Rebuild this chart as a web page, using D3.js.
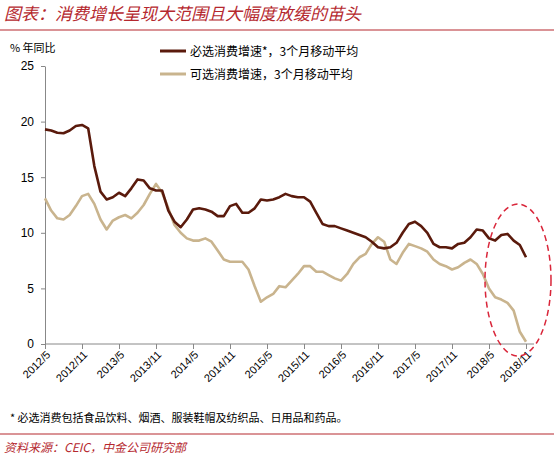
<!DOCTYPE html>
<html><head><meta charset="utf-8">
<script src="https://cdn.jsdelivr.net/npm/d3@7"></script>
<style>body{margin:0;background:#fff;font-family:"Noto Sans CJK SC",sans-serif}</style>
</head><body><svg id="chart" width="554" height="462"></svg>
<script>
const startMonth = new Date(2012, 4, 1);
const necessity = [19.3,19.2,19.0,18.95,19.2,19.6,19.7,19.4,16.0,13.7,13.0,13.2,13.6,13.3,14.0,14.8,14.7,14.0,13.8,13.8,
  12.0,11.0,10.5,11.2,12.1,12.2,12.1,11.9,11.5,11.5,12.4,12.6,11.8,11.8,12.2,13.0,12.9,13.0,13.2,13.5,
  13.3,13.2,13.2,12.8,11.8,10.8,10.6,10.6,10.4,10.2,10.0,9.8,9.6,9.2,8.7,8.6,8.7,9.1,10.0,10.8,
  11.0,10.6,10.0,9.0,8.7,8.7,8.6,9.0,9.1,9.6,10.3,10.2,9.5,9.3,9.8,9.9,9.3,8.9,7.8];
const optional = [13.1,12.0,11.3,11.2,11.6,12.4,13.3,13.5,12.6,11.2,10.3,11.1,11.4,11.6,11.3,11.8,12.5,13.5,14.4,13.6,
  12.2,10.7,10.0,9.5,9.3,9.3,9.5,9.2,8.4,7.6,7.4,7.4,7.4,6.7,5.2,3.8,4.2,4.5,5.2,5.1,
  5.7,6.3,7.0,7.0,6.5,6.5,6.2,5.9,5.7,6.3,7.2,7.8,8.1,9.0,9.6,9.2,7.6,7.2,8.2,9.0,
  8.8,8.6,8.3,7.6,7.2,7.0,6.7,6.9,7.3,7.6,7.2,6.3,5.0,4.2,4.0,3.7,3.0,1.1,0.2];
const xTicks = ["2012/5","2012/11","2013/5","2013/11","2014/5","2014/11","2015/5","2015/11","2016/5","2016/11","2017/5","2017/11","2018/5","2018/11"];
const yTicks = [0,5,10,15,20,25];
const seriesNames = ["必选消费增速*，3个月移动平均","可选消费增速，3个月移动平均"];
const colors = ["#5a1a0c","#c9b48e"];
const red = "#b5282e";

const svg = d3.select("#chart");
const x = d3.scaleLinear().domain([0, 78]).range([45, 526]);
const y = d3.scaleLinear().domain([0, 25]).range([344, 66]);

// title
svg.append("text").attr("x", 4).attr("y", 20).attr("fill", red)
  .style("font-size", "17px").style("font-style", "italic").text("图表：消费增长呈现大范围且大幅度放缓的苗头");
svg.append("line").attr("x1", 0).attr("x2", 554).attr("y1", 30).attr("y2", 30).attr("stroke", red).attr("stroke-width", 1.2);

svg.append("text").attr("x", 10).attr("y", 52).style("font-size", "11px").text("% 年同比");

// y axis
const yAxis = svg.append("g").attr("transform", "translate(45,0)")
  .call(d3.axisLeft(y).tickValues(yTicks).tickSize(4).tickSizeOuter(0));
yAxis.selectAll("text").style("font-size", "12px").style("font-family", "Liberation Sans, Arial").attr("dx", "-4");
yAxis.selectAll("path,line").attr("stroke", "#888");

// x axis
const xAxis = svg.append("g").attr("transform", "translate(0,344)")
  .call(d3.axisBottom(x).tickValues(d3.range(0, 79, 6)).tickFormat((d, i) => xTicks[i]).tickSize(5).tickSizeOuter(0));
xAxis.select(".domain").attr("d", "M45,0H534");
xAxis.selectAll("path,line").attr("stroke", "#888");
xAxis.selectAll("text").style("font-size", "11px").style("font-family", "Liberation Sans, Arial")
  .attr("text-anchor", "end").attr("transform", "rotate(-45)").attr("dx", "-4").attr("dy", "4");

// lines
const line = d3.line().x((d, i) => x(i)).y(d => y(d));
[optional, necessity].forEach((s, k) => {
  svg.append("path").datum(s).attr("d", line).attr("fill", "none")
    .attr("stroke", k === 0 ? colors[1] : colors[0]).attr("stroke-width", 2.6).attr("stroke-linejoin", "round");
});

// legend
seriesNames.forEach((n, i) => {
  const ly = 51 + i * 23;
  svg.append("line").attr("x1", 160).attr("x2", 186).attr("y1", ly).attr("y2", ly)
    .attr("stroke", colors[i]).attr("stroke-width", 3);
  svg.append("text").attr("x", 190).attr("y", ly + 5).style("font-size", "12px").text(n);
});

// highlight ellipse
svg.append("ellipse").attr("cx", 518).attr("cy", 280).attr("rx", 33).attr("ry", 76)
  .attr("fill", "none").attr("stroke", "#d9263a").attr("stroke-width", 1.5).attr("stroke-dasharray", "6,4");

// footnote & source
svg.append("text").attr("x", 10).attr("y", 422).style("font-size", "11px")
  .text("* 必选消费包括食品饮料、烟酒、服装鞋帽及纺织品、日用品和药品。");
svg.append("line").attr("x1", 0).attr("x2", 554).attr("y1", 434).attr("y2", 434).attr("stroke", red).attr("stroke-width", 1);
svg.append("text").attr("x", 4).attr("y", 452).attr("fill", red).style("font-size", "12px").style("font-style", "italic")
  .text("资料来源：CEIC，中金公司研究部");
</script></body></html>
